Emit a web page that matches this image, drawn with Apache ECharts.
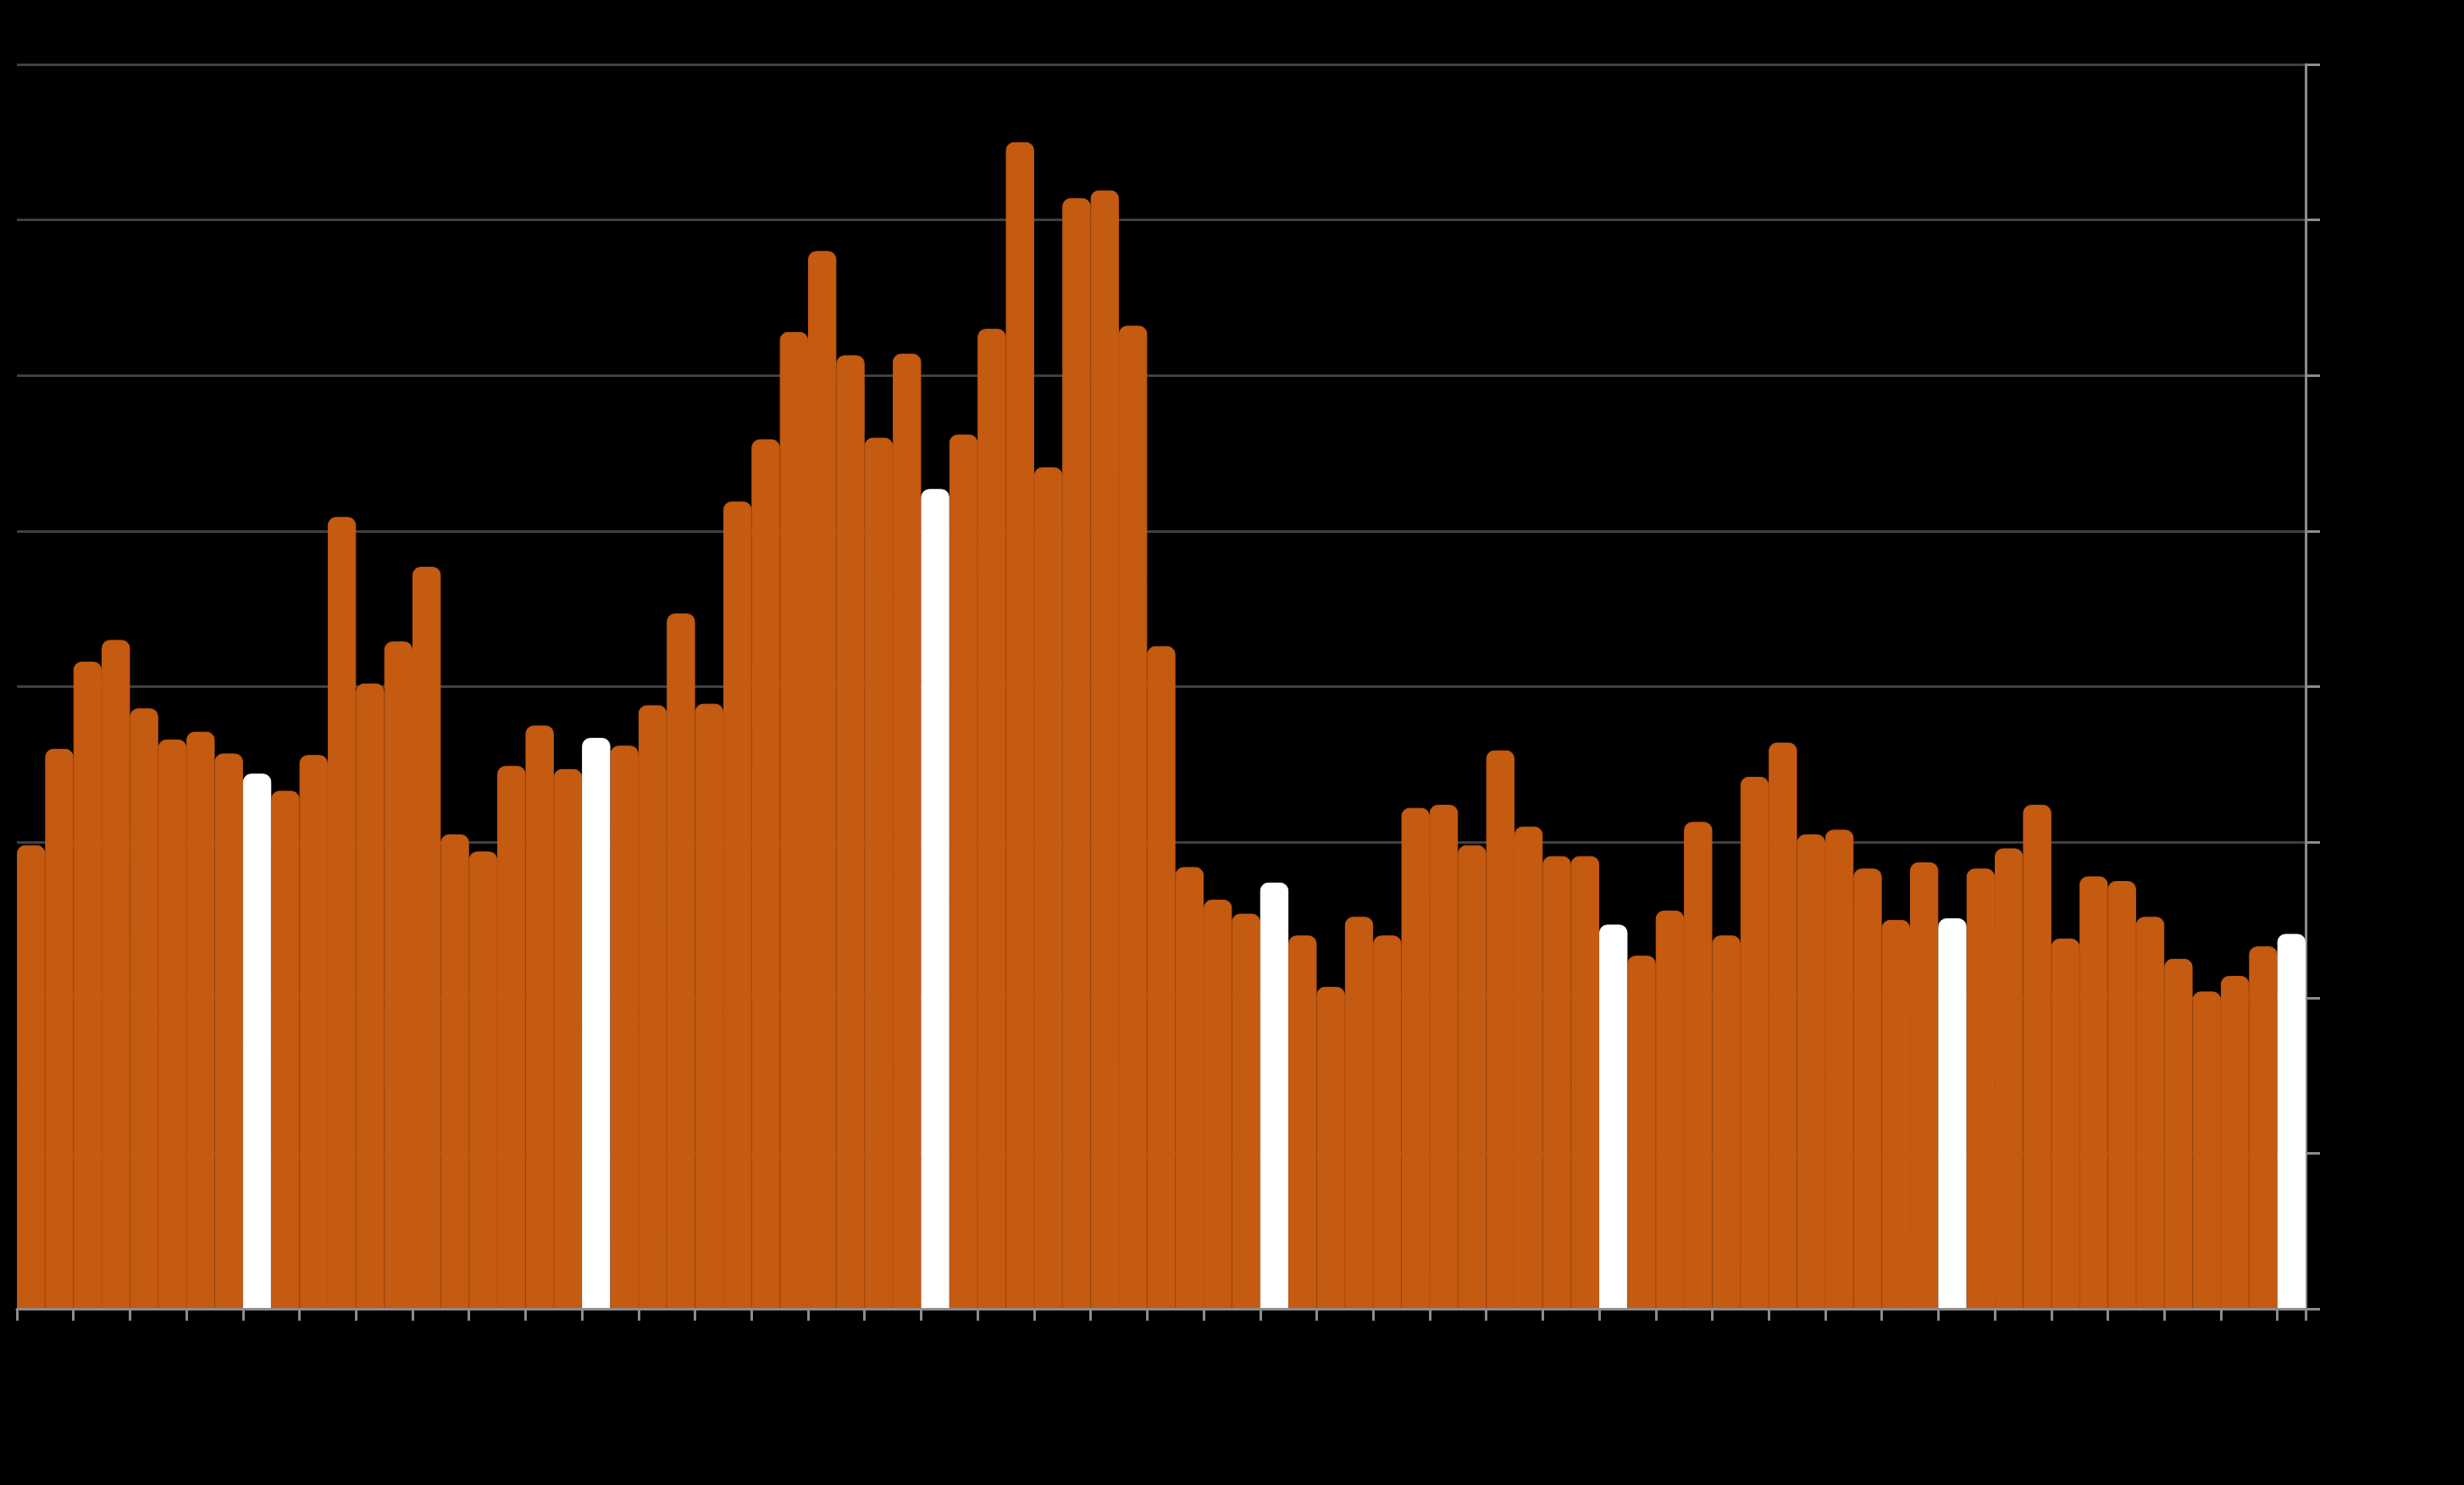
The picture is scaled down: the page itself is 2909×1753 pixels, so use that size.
<!DOCTYPE html>
<html>
<head>
<meta charset="utf-8">
<script src="https://cdn.jsdelivr.net/npm/echarts@6/dist/echarts.min.js"></script>
<style>
html,body{margin:0;padding:0;background:#000;}
#chart{width:2909px;height:1753px;}
</style>
</head>
<body>
<div id="chart"></div>
<script>
// Months Apr 2019 .. Dec 2025 (81 bars); December bars highlighted in white
const startYear = 2019, startMonth = 4, monthCount = 81;
const categories = [];
for (let i = 0; i < monthCount; i++) {
  const m = (startMonth - 1 + i) % 12 + 1;
  const y = startYear + Math.floor((startMonth - 1 + i) / 12);
  categories.push(y + '-' + (m < 10 ? '0' + m : m));
}

const values = [
  29.8, 36.0, 41.6, 43.0, 38.6, 36.6, 37.1, 35.7, 34.4, 33.3,
  35.6, 50.9, 40.2, 42.9, 47.7, 30.5, 29.4, 34.9, 37.5, 34.7,
  36.7, 36.2, 38.8, 44.7, 38.9, 51.9, 55.9, 62.8, 68.0, 61.3,
  56.0, 61.4, 52.7, 56.2, 63.0, 75.0, 54.1, 71.4, 71.9, 63.2,
  42.6, 28.4, 26.3, 25.4, 27.4, 24.0, 20.7, 25.2, 24.0, 32.2,
  32.4, 29.8, 35.9, 31.0, 29.1, 29.1, 24.7, 22.7, 25.6, 31.3,
  24.0, 34.2, 36.4, 30.5, 30.8, 28.3, 25.0, 28.7, 25.1, 28.3,
  29.6, 32.4, 23.8, 27.8, 27.5, 25.2, 22.5, 20.4, 21.4, 23.3,
  24.1
];

const yTicks = [0, 10, 20, 30, 40, 50, 60, 70, 80];

const barColor = '#C55A11';
const highlightColor = '#FFFFFF';

const seriesData = values.map((v, i) => {
  const c = categories[i].endsWith('-12') ? highlightColor : barColor;
  return { value: v, itemStyle: { color: c, borderColor: c } };
});

const chart = echarts.init(document.getElementById('chart'), null, { renderer: 'canvas' });
chart.setOption({
  backgroundColor: '#000000',
  animation: false,
  grid: { left: 20, right: 187, top: 76, bottom: 208, containLabel: false },
  xAxis: {
    type: 'category',
    data: categories,
    boundaryGap: true,
    z: 10,
    axisLine: { show: true, lineStyle: { color: '#8c8c8c', width: 3 } },
    axisTick: {
      show: true,
      interval: function (index) { return index % 2 === 0 && index < monthCount; },
      length: 14,
      lineStyle: { color: '#8c8c8c', width: 3 }
    },
    axisLabel: { show: false },
    splitLine: { show: false }
  },
  yAxis: {
    type: 'value',
    position: 'right',
    min: yTicks[0],
    max: yTicks[yTicks.length - 1],
    interval: yTicks[1] - yTicks[0],
    axisLine: { show: true, lineStyle: { color: '#8c8c8c', width: 3 } },
    axisTick: { show: true, length: 17, lineStyle: { color: '#8c8c8c', width: 3 } },
    axisLabel: { show: false },
    splitLine: { show: true, lineStyle: { color: '#404040', width: 3 } }
  },
  series: [{
    type: 'bar',
    data: seriesData,
    barCategoryGap: '0%',
    itemStyle: { borderRadius: [9, 9, 0, 0], borderWidth: 1 }
  }]
});
</script>
</body>
</html>
